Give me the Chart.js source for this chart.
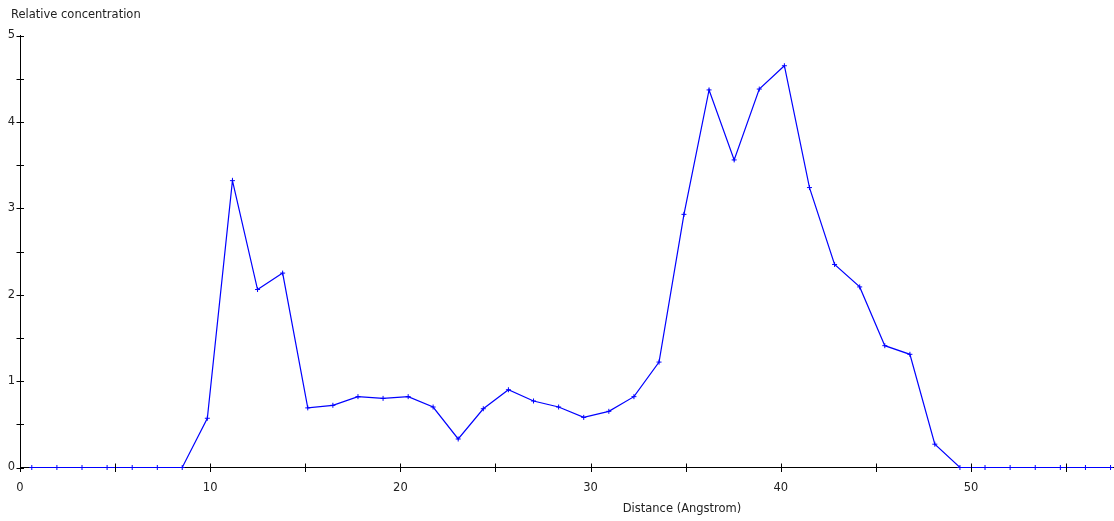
<!DOCTYPE html>
<html>
<head>
<meta charset="utf-8">
<script src="https://cdn.jsdelivr.net/npm/chart.js@4/dist/chart.umd.min.js"></script>
<style>
  html, body { margin: 0; padding: 0; background: #ffffff; overflow: hidden; }
  /* a few extra pixels on the right so the x axis runs to the window edge */
  #wrap { width: 1119px; height: 521px; position: relative; }
</style>
</head>
<body>
<div id="wrap"><canvas id="profile"></canvas></div>
<script>
// Distance along the profile (Angstrom)
const distances = [
  0.62, 1.94, 3.26, 4.58, 5.90, 7.22, 8.53, 9.85, 11.17, 12.49,
  13.81, 15.13, 16.45, 17.77, 19.09, 20.41, 21.72, 23.04, 24.36, 25.68,
  27.00, 28.32, 29.64, 30.96, 32.28, 33.60, 34.91, 36.23, 37.55, 38.87,
  40.19, 41.51, 42.83, 44.15, 45.47, 46.79, 48.10, 49.42, 50.74, 52.06,
  53.38, 54.70, 56.02, 57.34
];

// Relative concentration at each distance
const concentration = [
  0, 0, 0, 0, 0, 0, 0, 0.57, 3.32, 2.06,
  2.25, 0.69, 0.72, 0.82, 0.80, 0.82, 0.70, 0.33, 0.68, 0.90,
  0.77, 0.70, 0.58, 0.65, 0.82, 1.22, 2.93, 4.37, 3.56, 4.38,
  4.65, 3.24, 2.35, 2.09, 1.41, 1.31, 0.27, 0, 0, 0,
  0, 0, 0, 0
];

// Axis tick positions (labels shown only on the major ones)
const xTicks = [0, 5, 10, 15, 20, 25, 30, 35, 40, 45, 50, 55];
const xLabels = [0, 10, 20, 30, 40, 50];
const yTicks = [0, 0.5, 1, 1.5, 2, 2.5, 3, 3.5, 4, 4.5, 5];
const yLabels = [0, 1, 2, 3, 4, 5];

const yTitle = 'Relative concentration';
const xTitle = 'Distance (Angstrom)';

const FONT = '"DejaVu Sans", Verdana, sans-serif';
const FONT_SIZE = 11.5;
const TEXT_COLOR = '#222222';

const points = distances.map((d, i) => ({ x: d, y: concentration[i] }));

// Tick marks that cross the axis lines, plus the two axis titles
const axisDecor = {
  id: 'axisDecor',
  afterDraw(chart) {
    const ctx = chart.ctx;
    const xs = chart.scales.x;
    const ys = chart.scales.y;
    const y0 = ys.getPixelForValue(0);
    const x0 = xs.getPixelForValue(0);
    ctx.save();
    ctx.strokeStyle = '#000000';
    ctx.lineWidth = 1;
    ctx.beginPath();
    xTicks.forEach(v => {
      const px = Math.round(xs.getPixelForValue(v)) + 0.5;
      ctx.moveTo(px, y0 - 4);
      ctx.lineTo(px, y0 + 4.5);
    });
    yTicks.forEach(v => {
      const py = Math.round(ys.getPixelForValue(v)) + 0.5;
      ctx.moveTo(x0 - 3.5, py);
      ctx.lineTo(x0 + 4, py);
    });
    ctx.stroke();

    ctx.fillStyle = TEXT_COLOR;
    ctx.font = FONT_SIZE + 'px ' + FONT;
    ctx.textBaseline = 'middle';
    ctx.textAlign = 'left';
    ctx.fillText(yTitle, 11, 15.5);
    ctx.textAlign = 'center';
    ctx.fillText(xTitle, 682, 509);
    ctx.restore();
  }
};

new Chart(document.getElementById('profile'), {
  type: 'line',
  data: {
    datasets: [{
      data: points,
      borderColor: '#0000ff',
      backgroundColor: '#0000ff',
      borderWidth: 1.2,
      pointStyle: 'cross',
      pointRadius: 2.5,
      pointBorderWidth: 1,
      pointHoverRadius: 2.5,
      tension: 0,
      fill: false,
      clip: false
    }]
  },
  options: {
    responsive: true,
    maintainAspectRatio: false,
    animation: false,
    events: [],
    layout: { padding: { left: 0, right: 0, top: 35.5, bottom: 0 } },
    plugins: {
      legend: { display: false },
      tooltip: { enabled: false },
      title: { display: false }
    },
    scales: {
      x: {
        type: 'linear',
        min: 0,
        max: 57.6,
        afterFit(scale) {
          scale.height = 53.5;
          scale.paddingLeft = 0;
          scale.paddingRight = 0;
        },
        afterBuildTicks(scale) { scale.ticks = xTicks.map(v => ({ value: v })); },
        grid: { display: true, drawOnChartArea: false, drawTicks: false },
        border: { display: true, color: '#000000', width: 1 },
        ticks: {
          padding: 13.5,
          maxRotation: 0,
          autoSkip: false,
          color: TEXT_COLOR,
          font: { family: FONT, size: FONT_SIZE },
          callback: v => (xLabels.includes(v) ? String(v) : '')
        }
      },
      y: {
        type: 'linear',
        min: 0,
        max: 5,
        afterFit(scale) {
          scale.width = 20;
          scale.paddingTop = 0;
          scale.paddingBottom = 0;
        },
        afterBuildTicks(scale) { scale.ticks = yTicks.map(v => ({ value: v })); },
        grid: { display: true, drawOnChartArea: false, drawTicks: false },
        border: { display: true, color: '#000000', width: 1 },
        ticks: {
          padding: 5,
          autoSkip: false,
          color: TEXT_COLOR,
          font: { family: FONT, size: FONT_SIZE },
          callback: v => (yLabels.includes(v) ? String(v) : '')
        }
      }
    }
  },
  plugins: [axisDecor]
});
</script>
</body>
</html>
